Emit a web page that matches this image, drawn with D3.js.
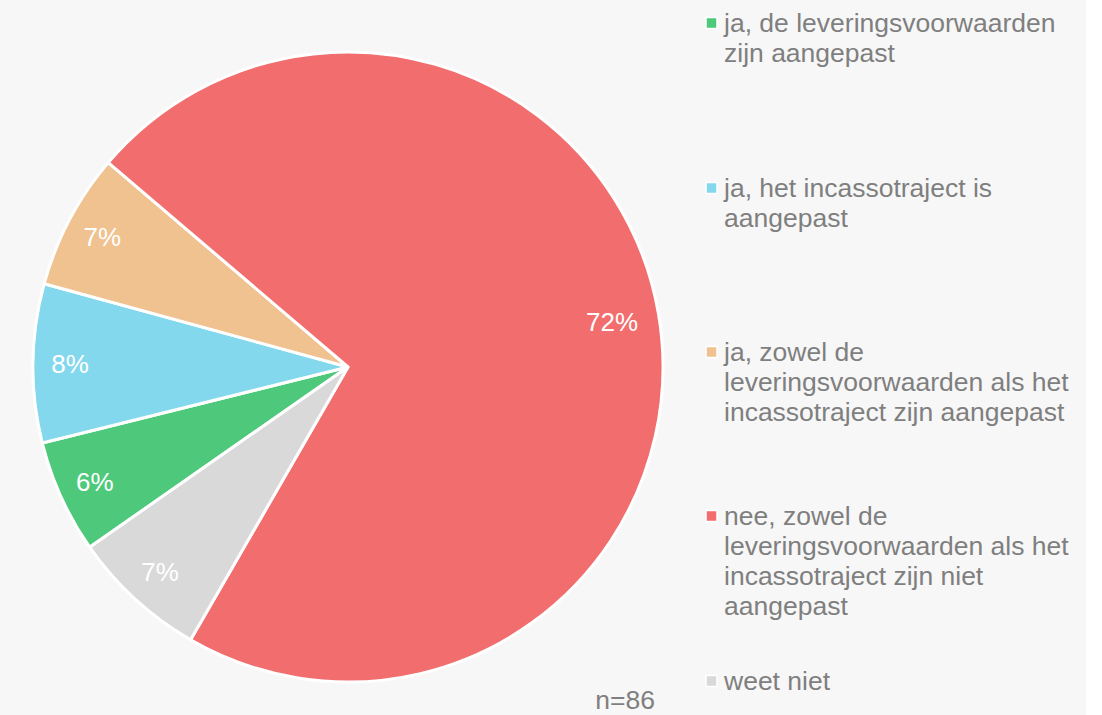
<!DOCTYPE html>
<html>
<head>
<meta charset="utf-8">
<script src="https://cdn.jsdelivr.net/npm/d3@7"></script>
<style>
  body { margin: 0; background: #ffffff; }
  text { font-family: "Liberation Sans", Arial, sans-serif; }
</style>
</head>
<body>
<div id="chart"></div>
<script>
// Data (counts, n=86)
var categories = [
  ["ja, de leveringsvoorwaarden", "zijn aangepast"],
  ["ja, het incassotraject is", "aangepast"],
  ["ja, zowel de", "leveringsvoorwaarden als het", "incassotraject zijn aangepast"],
  ["nee, zowel de", "leveringsvoorwaarden als het", "incassotraject zijn niet", "aangepast"],
  ["weet niet"]
];
var counts = [5, 7, 6, 62, 6];
var total = 86;
var colors = ["#4ec97b", "#84d8ed", "#f0c28f", "#f26d6d", "#d9d9d9"];
var legendY = [23, 188, 352, 516, 681];

var width = 1102, height = 715;
var cx = 348, cy = 367, radius = 315;

var svg = d3.select("#chart")
    .append("svg")
    .attr("width", width)
    .attr("height", height);

// background
svg.append("rect")
    .attr("width", 1086)
    .attr("height", height)
    .style("fill", "#f7f7f7");

var start = 235.1 * Math.PI / 180;

var pie = d3.pie()
    .sort(null)
    .startAngle(start)
    .endAngle(start + 2 * Math.PI)
    .value(function(d) { return d; });

var arc = d3.arc().innerRadius(0).outerRadius(radius);
// small slices get their label a bit further out than the big one
var labelArc = d3.arc()
    .innerRadius(function(d) { return d.value > total / 2 ? 268 : 278; })
    .outerRadius(function(d) { return d.value > total / 2 ? 268 : 278; });

var g = svg.append("g")
    .attr("transform", "translate(" + cx + "," + cy + ")");

var slices = g.selectAll(".slice")
    .data(pie(counts))
    .enter()
    .append("g")
    .attr("class", "slice");

slices.append("path")
    .attr("d", arc)
    .style("fill", function(d, i) { return colors[i]; })
    .style("stroke", "#ffffff")
    .style("stroke-width", 3)
    .style("stroke-linejoin", "round");

slices.append("text")
    .attr("transform", function(d) { return "translate(" + labelArc.centroid(d) + ")"; })
    .attr("text-anchor", "middle")
    .attr("dy", "0.35em")
    .style("fill", "#ffffff")
    .style("font-size", "26px")
    .text(function(d) { return Math.round(d.value / total * 100) + "%"; });

// legend
var legend = svg.selectAll(".legend")
    .data(categories)
    .enter()
    .append("g")
    .attr("class", "legend")
    .attr("transform", function(d, i) { return "translate(706," + legendY[i] + ")"; });

legend.append("rect")
    .attr("x", 0)
    .attr("y", -5.5)
    .attr("width", 11)
    .attr("height", 11)
    .style("fill", function(d, i) { return colors[i]; })
    .style("stroke", "#ffffff")
    .style("stroke-width", 1.5);

legend.append("text")
    .style("fill", "#7f7f7f")
    .style("font-size", "26.5px")
    .selectAll("tspan")
    .data(function(d) { return d; })
    .enter()
    .append("tspan")
    .attr("x", 18)
    .attr("y", function(d, j) { return j * 30 + 9; })
    .text(function(d) { return d; });

svg.append("text")
    .attr("x", 655)
    .attr("y", 709)
    .attr("text-anchor", "end")
    .style("fill", "#7f7f7f")
    .style("font-size", "26.5px")
    .text("n=86");
</script>
</body>
</html>
